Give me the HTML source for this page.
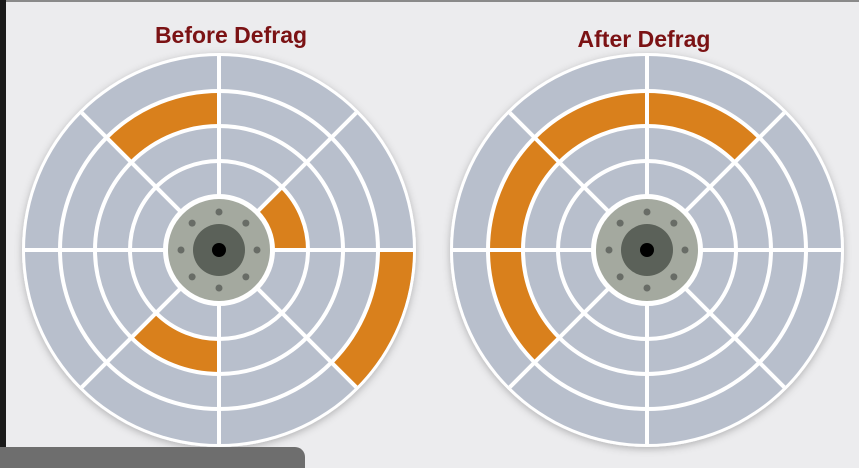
<!DOCTYPE html>
<html><head><meta charset="utf-8"><style>
html,body{margin:0;padding:0;width:859px;height:468px;overflow:hidden;background:#ececee;font-family:"Liberation Sans",sans-serif}
svg{position:absolute;left:0;top:0}
</style></head><body>
<svg id="stage" width="859" height="468">
<defs><filter id="sh" x="-10%" y="-10%" width="120%" height="120%"><feDropShadow dx="0" dy="2" stdDeviation="4" flood-color="#000" flood-opacity="0.25"/></filter></defs>
<rect x="0" y="0" width="859" height="2" fill="#8a8a8a"/>
<rect x="0" y="0" width="6" height="468" fill="#1a1a1a"/>
<text x="231" y="43" text-anchor="middle" font-size="23" font-weight="bold" fill="#7b1214">Before Defrag</text>
<text x="644" y="47" text-anchor="middle" font-size="23" font-weight="bold" fill="#7b1214">After Defrag</text>
<g id="disks"></g>
<rect x="-10" y="447" width="315" height="40" rx="10" fill="#6e6e6e"/>
</svg>
<script>
const diskNames = ["before-disk","after-disk"];
const diskCenters = [[219,250],[647,250]];
const ringRadii = [194,159,124,89,54];
// fragmented segments: [ringIndex (0=outer), sectorIndex (0 = 0..45deg, counter-clockwise)]
const beforeSegments = [[1,2],[3,0],[2,5],[0,7]];
const afterSegments = [[1,1],[1,2],[1,3],[1,4]];
const segmentsByDisk = [beforeSegments, afterSegments];
const NS="http://www.w3.org/2000/svg";
const root=document.getElementById('disks');
function mk(tag,attrs,parent){const e=document.createElementNS(NS,tag);for(const k in attrs)e.setAttribute(k,attrs[k]);parent.appendChild(e);return e;}
function pt(cx,cy,r,a){const t=a*Math.PI/180;return [cx+r*Math.cos(t),cy-r*Math.sin(t)];}
function arcPath(cx,cy,r1,r2,a1,a2){
 const p1=pt(cx,cy,r2,a1),p2=pt(cx,cy,r2,a2),p3=pt(cx,cy,r1,a2),p4=pt(cx,cy,r1,a1);
 return `M${p1[0]},${p1[1]} A${r2},${r2} 0 0 0 ${p2[0]},${p2[1]} L${p3[0]},${p3[1]} A${r1},${r1} 0 0 1 ${p4[0]},${p4[1]} Z`;
}
diskCenters.forEach((c,d)=>{
 const [cx,cy]=c;
 const g=mk('g',{},root);
 
 
 const outer=mk('circle',{cx,cy,r:ringRadii[0]+3,fill:'#fff',filter:'url(#sh)'},g);
 
 
 const plate=mk('circle',{cx,cy,r:ringRadii[0],fill:'#b8bfcc'},g);
 
 
 segmentsByDisk[d].forEach(s=>{
  const r2=ringRadii[s[0]], r1=ringRadii[s[0]+1];
  const p=mk('path',{d:arcPath(cx,cy,r1,r2,s[1]*45,s[1]*45+45),fill:'#d9801c'},g);
  
  
 });
 for(let i=1;i<ringRadii.length;i++){
  const ring=mk('circle',{cx,cy,r:ringRadii[i],fill:'none',stroke:'#fff','stroke-width':4},g);
  
  
 }
 for(let k=0;k<8;k++){
  const a=pt(cx,cy,ringRadii[ringRadii.length-1],k*45),b=pt(cx,cy,ringRadii[0],k*45);
  const l=mk('line',{x1:a[0],y1:a[1],x2:b[0],y2:b[1],stroke:'#fff','stroke-width':4},g);
  
  
 }
 const hubB=mk('circle',{cx,cy,r:54,fill:'#fff'},g);
 
 
 const hub=mk('circle',{cx,cy,r:51,fill:'#a4a99f'},g);
 
 
 for(let k=0;k<8;k++){
  const p=pt(cx,cy,38,k*45);
  const dot=mk('circle',{cx:p[0],cy:p[1],r:3.5,fill:'#686c66'},g);
  
  
 }
 const sp=mk('circle',{cx,cy,r:26,fill:'#5b6159'},g);
 
 
 const ax=mk('circle',{cx,cy,r:7,fill:'#000'},g);
 
 
});
</script>
</body></html>
